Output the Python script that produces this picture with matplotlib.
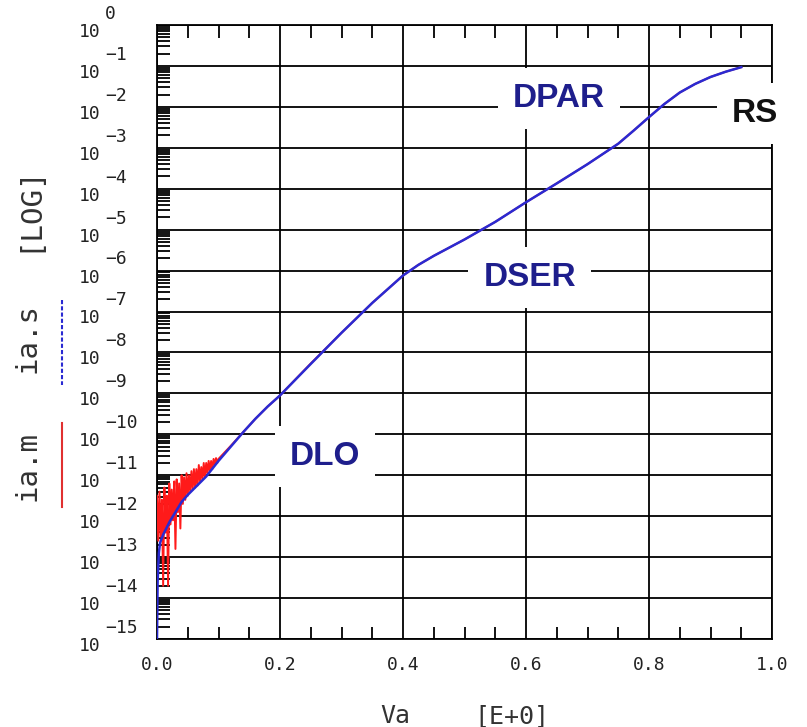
import matplotlib
matplotlib.use("Agg")
import numpy as np
import matplotlib.pyplot as plt
from matplotlib.ticker import LogLocator, MultipleLocator, NullFormatter, FixedLocator
from matplotlib.lines import Line2D

plt.rcParams['font.family'] = ['DejaVu Sans Mono']

# simulated current ia.s (log10 of A) vs Va
va_s = [0.0, 0.001, 0.003, 0.005, 0.01, 0.02, 0.03, 0.04, 0.05, 0.06, 0.08, 0.10,
        0.12, 0.14, 0.16, 0.18, 0.20, 0.25, 0.30, 0.35, 0.40, 0.425, 0.45, 0.50, 0.55,
        0.60, 0.65, 0.70, 0.75, 0.775, 0.80, 0.825, 0.85, 0.875, 0.90, 0.925, 0.95]
log_ia_s = [-15.0, -13.6, -12.9, -12.65, -12.45, -12.15, -11.9, -11.65, -11.48, -11.33, -11.03, -10.65,
            -10.3, -9.95, -9.62, -9.32, -9.05, -8.28, -7.52, -6.79, -6.12, -5.86, -5.64, -5.24, -4.81,
            -4.33, -3.87, -3.40, -2.9, -2.58, -2.25, -1.93, -1.65, -1.44, -1.27, -1.14, -1.03]

# measured current ia.m (noisy near zero bias)
va_m = [0.000, 0.002, 0.004, 0.006, 0.008, 0.010, 0.012, 0.014, 0.016, 0.018,
        0.020, 0.022, 0.024, 0.026, 0.028, 0.030, 0.032, 0.034, 0.036, 0.038,
        0.040, 0.042, 0.044, 0.046, 0.048, 0.050, 0.052, 0.054, 0.056, 0.058,
        0.060, 0.062, 0.064, 0.066, 0.068, 0.070, 0.072, 0.074, 0.076, 0.078,
        0.080, 0.082, 0.084, 0.086, 0.088, 0.090, 0.092, 0.094, 0.096, 0.098,
        0.100, 0.12, 0.14, 0.16, 0.18, 0.20, 0.25, 0.30, 0.35, 0.40, 0.425, 0.45, 0.50,
        0.55, 0.60, 0.65, 0.70, 0.75, 0.775, 0.80, 0.825, 0.85, 0.875, 0.90, 0.925, 0.95]
log_ia_m = [-11.5, -12.6, -11.4, -12.5, -11.6, -13.7, -11.3, -12.4, -11.5, -13.7,
            -11.2, -12.2, -11.35, -12.1, -11.15, -12.8, -11.1, -11.9, -11.2, -12.3,
            -11.0, -11.7, -11.05, -11.6, -10.95, -11.5, -11.0, -11.4, -10.9, -11.35,
            -10.85, -11.3, -10.85, -11.25, -10.75, -11.15, -10.8, -11.1, -10.7, -11.05,
            -10.7, -10.95, -10.65, -10.9, -10.65, -10.85, -10.6, -10.75, -10.58, -10.7,
            -10.6, -10.28, -9.95, -9.62, -9.32, -9.05, -8.27, -7.52, -6.79, -6.12, -5.86, -5.64, -5.24,
            -4.81, -4.33, -3.87, -3.40, -2.9, -2.58, -2.25, -1.93, -1.65, -1.44, -1.27, -1.14, -1.03]

x_ticks = [0.0, 0.2, 0.4, 0.6, 0.8, 1.0]
x_ticklabels = ["0.0", "0.2", "0.4", "0.6", "0.8", "1.0"]
decades = list(range(0, -16, -1))

# region labels: (text, Va, log10 I, colour)
regions = [("DPAR", 0.654, -1.80, "#1e1e8c"),
           ("DSER", 0.606, -6.17, "#1e1e8c"),
           ("DLO", 0.273, -10.53, "#1e1e8c"),
           ("RS", 0.972, -2.16, "#111111")]

blue = "#2a2ad2"
red = "#ff1a1a"

fig = plt.figure(figsize=(8.07, 7.27), dpi=100)
ax = fig.add_axes([157/807, 1 - 639/727, 615/807, 614/727])

ax.plot(va_m, 10.0**np.array(log_ia_m), color=red, lw=1.4, zorder=5)
ax.plot(va_s, 10.0**np.array(log_ia_s), color=blue, lw=1.8, zorder=6)

ax.set_yscale("log")
ax.set_xlim(0, 1.0)
ax.set_ylim(1e-15, 1e0)

ax.yaxis.set_major_locator(FixedLocator([10.0**k for k in decades]))
ax.yaxis.set_major_formatter(NullFormatter())
ax.yaxis.set_minor_locator(LogLocator(base=10, subs=np.arange(2, 10), numticks=30))
ax.yaxis.set_minor_formatter(NullFormatter())
ax.tick_params(axis='y', which='major', length=0)
ax.tick_params(axis='y', which='minor', direction='in', length=9.5, width=1.3,
               left=True, right=False, color='black')

ax.set_xticks(x_ticks)
ax.set_xticklabels(x_ticklabels, fontsize=13, color="#222222")
ax.xaxis.set_minor_locator(MultipleLocator(0.05))
ax.tick_params(axis='x', which='major', length=0, pad=12)
ax.tick_params(axis='x', which='minor', direction='in', length=9, width=1.3,
               top=True, bottom=True, color='black')

ax.grid(True, which='major', color='black', lw=1.3, zorder=1)
ax.set_axisbelow(True)
for s in ax.spines.values():
    s.set_linewidth(1.3)
    s.set_zorder(2)

# y tick labels as 10 with exponent
for k in decades:
    ax.annotate("10", xy=(0, 10.0**k), xycoords=('axes fraction', 'data'),
                xytext=(-48.6, -5), textcoords='offset points',
                ha='center', va='center', fontsize=13, color="#222222")
    exp = "0" if k == 0 else "\u2212" + str(-k)
    ax.annotate(exp, xy=(0, 10.0**k), xycoords=('axes fraction', 'data'),
                xytext=(-37.4, 8), textcoords='offset points',
                ha='left', va='center', fontsize=13, color="#222222")

for txt, v, lg, c in regions:
    ax.text(v, 10.0**lg, txt, fontsize=24, fontweight='bold', color=c,
            family='Liberation Sans', ha='center', va='center', zorder=4,
            clip_on=False,
            bbox=dict(boxstyle='square,pad=0.45', facecolor='white', edgecolor='none'))

# axis titles
fig.text(28/807, 1 - 208/727, "[LOG]", rotation=90, ha='center', va='center',
         fontsize=21, color="#333333")
fig.text(28/807, 1 - 338/727, "ia.s", rotation=90, ha='center', va='center',
         fontsize=21, color="#333333")
fig.text(28/807, 1 - 466/727, "ia.m", rotation=90, ha='center', va='center',
         fontsize=21, color="#333333")
fig.add_artist(Line2D([62/807, 62/807], [1 - 300/727, 1 - 385/727],
                      color=blue, lw=1.5, ls=(0, (2, 1))))
fig.add_artist(Line2D([62/807, 62/807], [1 - 423/727, 1 - 507/727],
                      color="#e03030", lw=1.5))
fig.text(395/807, 1 - 716/727, "Va", ha='center', va='center', fontsize=18, color="#333333")
fig.text(512/807, 1 - 716/727, "[E+0]", ha='center', va='center', fontsize=18, color="#333333")

fig.savefig("out.png", dpi=100, facecolor='white')
